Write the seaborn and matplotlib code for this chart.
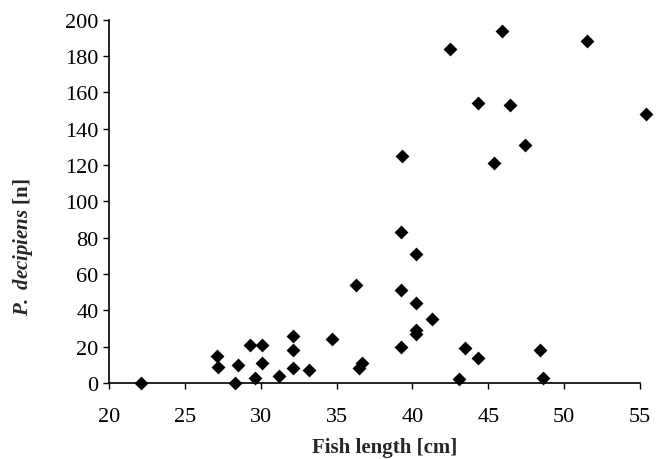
import matplotlib
matplotlib.use("Agg")
import matplotlib.pyplot as plt
import seaborn as sns
import pandas as pd

fish_length = [22.1, 27.1, 27.2, 28.5, 28.3, 29.3, 29.6, 30.1, 30.1, 31.2,
               32.15, 32.15, 32.15, 33.2, 34.7, 36.3, 36.5, 36.7, 39.3, 39.25,
               39.25, 39.25, 40.26, 40.26, 40.26, 40.26, 41.27, 43.1, 43.47, 44.3,
               42.5, 44.35, 45.35, 45.9, 46.4, 47.4, 48.4, 48.6, 51.5, 55.4]
parasites = [0, 15, 9, 10, 0, 21, 3, 21, 11, 4,
             26, 18, 8, 7, 24, 54, 8, 11, 125, 83,
             51, 20, 71, 44, 29, 27, 35, 2, 19, 14,
             184, 154, 121, 194, 153, 131, 18, 3, 188, 148]
x_ticks = [20, 25, 30, 35, 40, 45, 50, 55]
y_ticks = [0, 20, 40, 60, 80, 100, 120, 140, 160, 180, 200]

df = pd.DataFrame({"len": fish_length, "n": parasites})

sns.set_theme(style="white")
plt.rcParams["font.family"] = ["Liberation Serif", "DejaVu Serif"]
plt.rcParams["mathtext.fontset"] = "custom"
plt.rcParams["mathtext.bfit"] = "Liberation Serif:italic:bold"
plt.rcParams["mathtext.bf"] = "Liberation Serif:bold"
plt.rcParams["mathtext.rm"] = "Liberation Serif:bold"

fig = plt.figure(figsize=(6.59, 4.60), dpi=100)
ax = fig.add_axes([0.1654, 0.1652, 0.9712 - 0.1654, 0.955 - 0.1652])

sns.scatterplot(data=df, x="len", y="n", marker="D", s=50, color="black",
                edgecolor="black", linewidth=0, ax=ax, clip_on=False, zorder=5)

ax.set_xlim(20, 55)
ax.set_ylim(0, 200)
ax.set_xticks(x_ticks)
ax.set_yticks(y_ticks)
ax.tick_params(axis="both", which="major", direction="out", length=4.5, width=1,
               color="black", labelsize=16, labelcolor="black", bottom=True, left=True)
ax.tick_params(axis="x", pad=12.5)
ax.tick_params(axis="y", pad=3)
for side in ["top", "right"]:
    ax.spines[side].set_visible(False)
for side in ["left", "bottom"]:
    ax.spines[side].set_color("black")
    ax.spines[side].set_linewidth(1.2)

ax.set_xlabel("Fish length [cm]", fontsize=15, fontweight="bold", va="center")
ax.set_ylabel(r"$\mathbfit{P.\:decipiens}$ [n]", fontsize=15,
              fontweight="bold", va="center")
ax.xaxis.set_label_coords(0.5198, -0.1775)
ax.yaxis.set_label_coords(-0.162, 0.377)
ax.grid(False)

fig.savefig("out.png", dpi=100, facecolor="white")
